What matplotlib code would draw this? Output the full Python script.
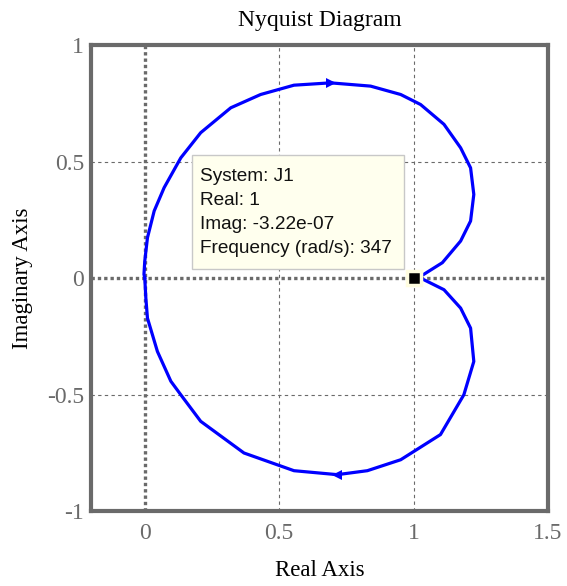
import numpy as np
import matplotlib
matplotlib.use('Agg')
import matplotlib.pyplot as plt
from matplotlib.patches import Rectangle

# Nyquist contour of J1, traced from the low-frequency end around to (1, 0)
upper_re = [1.038, 1.107, 1.175, 1.212, 1.224, 1.212, 1.175, 1.113, 1.026, 0.952,
            0.840, 0.691, 0.555, 0.431, 0.320, 0.208, 0.134, 0.072, 0.035, 0.010,
            0.000, -0.003, 0.000]
upper_im = [0.016, 0.066, 0.159, 0.245, 0.359, 0.473, 0.559, 0.660, 0.745, 0.788,
            0.824, 0.838, 0.828, 0.788, 0.731, 0.624, 0.516, 0.388, 0.288, 0.173,
            0.073, 0.016, 0.000]
lower_re = [0.000, 0.004, 0.010, 0.047, 0.097, 0.134, 0.208, 0.369, 0.555, 0.716,
            0.828, 0.952, 1.100, 1.187, 1.224, 1.212, 1.175, 1.113, 1.038]
lower_im = [0.000, -0.086, -0.172, -0.315, -0.443, -0.501, -0.615, -0.751, -0.827, -0.844,
            -0.827, -0.780, -0.672, -0.501, -0.358, -0.215, -0.129, -0.050, -0.007]

# data tip
tip_re, tip_im = 1.0, -3.22e-07
tip_lines = ['System: J1', 'Real: 1', 'Imag: -3.22e-07', 'Frequency (rad/s): 347']

xticks = [0, 0.5, 1, 1.5]
xticklabels = ['0', '0.5', '1', '1.5']
yticks = [-1, -0.5, 0, 0.5, 1]
yticklabels = ['-1', '-0.5', '0', '0.5', '1']

serif = ['Liberation Serif', 'DejaVu Serif']
grey = '#6a6a6a'

fig = plt.figure(figsize=(5.67, 5.86), dpi=100)
ax = fig.add_axes([0.1605, 0.128, 0.806, 0.795])
ax.set_xlim(-0.2, 1.5)
ax.set_ylim(-1, 1)

# grid and the dotted real/imaginary reference lines
for v in [0.5, 1]:
    ax.axvline(v, color=grey, lw=0.8, ls=(0, (3, 3)), zorder=1)
for v in [-0.5, 0.5]:
    ax.axhline(v, color=grey, lw=0.8, ls=(0, (3, 3)), zorder=1)
ax.axvline(0, color=grey, lw=2.4, ls=(0, (1, 0.9)), zorder=1)
ax.axhline(0, color=grey, lw=2.4, ls=(0, (1, 0.9)), zorder=1)

ax.plot(upper_re, upper_im, color='#0000ff', lw=2.3, solid_joinstyle='round', zorder=3)
ax.plot(lower_re, lower_im, color='#0000ff', lw=2.3, solid_joinstyle='round', zorder=3)

# direction arrows on the two branches
ax.plot(upper_re[11], upper_im[11], marker='>', ms=7, color='#0000ff', mew=0, zorder=4)
ax.plot(lower_re[9], lower_im[9], marker='<', ms=7, color='#0000ff', mew=0, zorder=4)

# data tip marker and box
ax.plot(tip_re, tip_im, marker='s', ms=10, color='black', mec='#fffde0', mew=2.5, zorder=5)
ax.add_patch(Rectangle((0.175, 0.039), 0.788, 0.489, fc='#ffffee', ec='#c8c8c8',
                       lw=1, zorder=6))
ax.text(0.207, 0.281, '\n'.join(tip_lines), family=['Liberation Sans', 'DejaVu Sans'],
        fontsize=13.7, color='#111111', linespacing=1.55, ha='left', va='center', zorder=7)

ax.set_xticks(xticks)
ax.set_xticklabels(xticklabels, family=serif, fontsize=17, color=grey)
ax.set_yticks(yticks)
ax.set_yticklabels(yticklabels, family=serif, fontsize=17, color=grey)
ax.tick_params(length=0)
ax.tick_params(axis='x', pad=9)
ax.tick_params(axis='y', pad=5)

for s in ax.spines.values():
    s.set_color(grey)
    s.set_linewidth(3)

ax.set_title('Nyquist Diagram', family=serif, fontsize=17, pad=14)
ax.set_xlabel('Real Axis', family=serif, fontsize=16.5, labelpad=11)
ax.set_ylabel('Imaginary Axis', family=serif, fontsize=16.5, labelpad=10)

fig.savefig('out.png', dpi=100)
